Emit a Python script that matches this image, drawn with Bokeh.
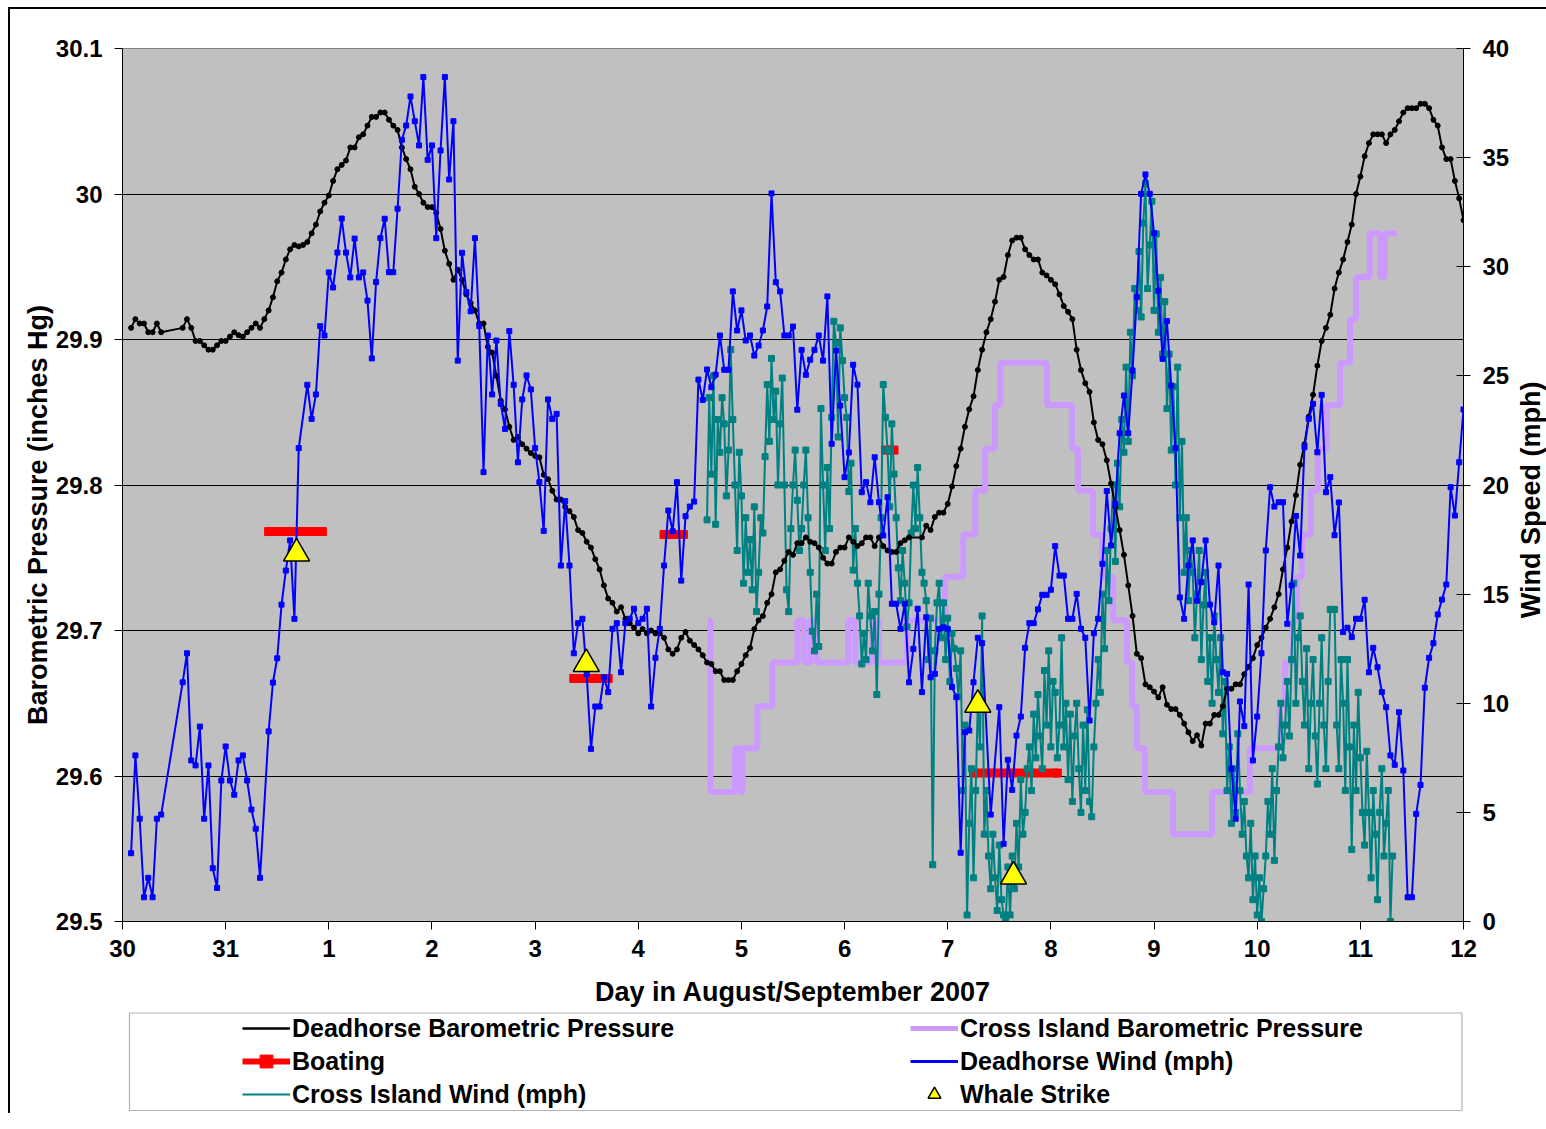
import math
from bokeh.plotting import figure
from bokeh.layouts import column, row
from bokeh.models import Range1d, LinearAxis, FixedTicker, Legend, LegendItem, BoxAnnotation
from bokeh.embed import file_html
from bokeh.resources import INLINE

FONT = "Liberation Sans"

# ---------------- data ----------------
# x axis: hours since 30 August 2007 00:00
tick_hours = [0, 24, 48, 72, 96, 120, 144, 168, 192, 216, 240, 264, 288, 312]
day_labels = ["30", "31", "1", "2", "3", "4", "5", "6", "7", "8", "9", "10", "11", "12"]
pressure_ticks = [29.5, 29.6, 29.7, 29.8, 29.9, 30.0, 30.1]
pressure_labels = ["29.5", "29.6", "29.7", "29.8", "29.9", "30", "30.1"]
wind_ticks = [0, 5, 10, 15, 20, 25, 30, 35, 40]

# Deadhorse barometric pressure (inches Hg), hourly from hour 2 (None = missing)
dh_pressure_start = 2
deadhorse_pressure = [
    29.908, 29.914, 29.911, 29.911, 29.905, 29.905, 29.911, 29.905,
    None, None, None, None,
    29.908, 29.914, 29.908, 29.899, 29.899, 29.896, 29.893, 29.893, 29.896, 29.899,
    29.899, 29.902, 29.905, 29.903, 29.902, 29.905, 29.908, 29.911, 29.908, 29.914,
    29.920, 29.929, 29.940, 29.946, 29.955, 29.962, 29.965, 29.964, 29.965, 29.967,
    29.973, 29.979, 29.988, 29.994, 29.999, 30.009, 30.017, 30.020, 30.023, 30.032,
    30.032, 30.039, 30.041, 30.047, 30.053, 30.053, 30.056, 30.056, 30.051, 30.047,
    30.044, 30.032, 30.024, 30.017, 30.005, 30.000, 29.994, 29.991, 29.991, 29.987,
    29.976, 29.961, 29.952, 29.941, 29.948, 29.941, 29.931, 29.925, 29.920, 29.911,
    29.911, 29.895, 29.891, 29.875, 29.858, 29.852, 29.840, 29.831, 29.833, 29.828,
    29.825, 29.822, 29.820, 29.819, 29.807, 29.804, 29.796, 29.790, 29.790, 29.785,
    29.782, 29.778, 29.769, 29.767, 29.761, 29.757, 29.749, 29.742, 29.731, 29.722,
    29.719, 29.713, 29.716, 29.708, 29.705, 29.702, 29.698, 29.701, 29.698, 29.700,
    29.698, 29.698, 29.695, 29.687, 29.684, 29.687, 29.695, 29.699, 29.693, 29.690,
    29.687, 29.683, 29.678, 29.677, 29.672, 29.672, 29.666, 29.666, 29.666, 29.672,
    29.677, 29.683, 29.688, 29.701, 29.707, 29.710, 29.719, 29.725, 29.740, 29.742,
    29.748, 29.754, 29.752, 29.760, 29.760, 29.764, 29.761, 29.760, 29.757, 29.750,
    29.746, 29.746, 29.754, 29.757, 29.757, 29.764, 29.761, 29.758, 29.760, 29.764,
    29.764, 29.758, 29.764, 29.758, 29.755, 29.754, 29.754, 29.760, 29.762, 29.764,
    None, None,
    29.764, 29.772, 29.769, 29.778, 29.781, 29.781, 29.787, 29.799, 29.813, 29.825,
    29.840, 29.852, 29.861, 29.879, 29.893, 29.905, 29.914, 29.926, 29.941, 29.943,
    29.958, 29.968, 29.970, 29.970, 29.962, 29.958, 29.955, 29.955, 29.946, 29.944,
    29.941, 29.938, 29.931, 29.923, 29.919, 29.914, 29.893, 29.879, 29.870, 29.864,
    29.843, 29.831, 29.828, 29.817, 29.801, 29.785, 29.769, 29.752, 29.731, 29.710,
    29.684, 29.681, 29.663, 29.661, 29.658, 29.654, 29.661, 29.649, 29.646, 29.646,
    29.642, 29.636, 29.630, 29.624, 29.628, 29.621, 29.636, 29.636, 29.642, 29.642,
    29.648, 29.660, 29.660, 29.663, 29.663, 29.670, 29.675, 29.681, 29.690, 29.695,
    29.702, 29.708, 29.716, 29.725, 29.742, 29.757, 29.775, 29.793, 29.814, 29.828,
    29.847, 29.862, 29.882, 29.899, 29.908, 29.917, 29.935, 29.946, 29.955, 29.967,
    29.979, 30.000, 30.012, 30.026, 30.035, 30.041, 30.041, 30.041, 30.035, 30.041,
    30.044, 30.050, 30.056, 30.059, 30.059, 30.059, 30.062, 30.062, 30.059, 30.051,
    30.047, 30.032, 30.024, 30.024, 30.009, 29.997, 29.982,
]

# Deadhorse wind (mph), hourly from hour 2 (None = missing)
dh_wind_start = 2
deadhorse_wind = [
    3.13, 7.61, 4.71, 1.11, 2.00, 1.11, 4.71, 4.90,
    None, None, None, None,
    10.96, 12.29, 7.38, 7.15, 8.93, 4.71, 7.15, 2.44, 1.54, 6.46,
    8.02, 6.46, 5.81, 7.38, 7.61, 6.46, 5.13, 4.25, 2.00, None,
    8.71, 10.95, 12.06, 14.52, 16.08, 17.46, 13.87, 21.69, None, 24.59,
    23.03, 24.15, 27.28, 26.85, 29.74, 29.05, 30.65, 32.21, 30.65, 29.51,
    31.29, 29.51, 29.74, 28.45, 25.80, 29.30, 31.31, 32.20, 29.75, 29.75,
    32.66, 35.82, 36.47, 37.80, 36.67, 35.56, 38.69, 34.90, 35.56, 31.31,
    35.33, 38.69, 34.00, 36.67, 25.70, 30.64, 28.84, 27.96, 31.31, 27.28,
    20.59, 26.85, 24.15, 26.62, 23.72, 22.57, 27.05, 24.59, 21.04, 23.92,
    25.02, 24.38, 21.69, 20.13, 17.90, 23.92, 23.03, 23.26, 16.31, 19.26,
    16.31, 12.29, 13.67, 13.87, 11.35, 7.91, 9.85, 9.85, 11.19, 10.51,
    13.41, 13.67, 11.42, 13.67, 13.87, 14.33, 13.67, 13.87, 14.33, 9.85,
    12.08, 13.41, 16.31, 18.83, 17.88, 20.13, 15.62, 18.57, 19.01, 19.24,
    24.83, 23.90, 25.29, 24.48, 25.06, 26.85, 25.28, 25.28, 28.87, 27.08,
    28.00, 26.62, 26.85, 25.93, 26.39, 27.08, 28.18, 33.36, 29.29, 28.87,
    26.85, 26.85, 27.26, 23.45, 26.19, 25.05, 25.74, 26.19, 26.85, 25.70,
    28.64, 21.89, 26.16, 23.64, 20.36, 21.49, 25.51, 24.60, 19.67, 20.13,
    19.21, 21.27, 19.21, 17.69, 19.44, 14.56, 14.56, 13.41, 14.56, 10.96,
    12.49, 14.33, 10.51, 13.94, 11.19, 11.35, 13.41, 13.48, 13.41, 10.74,
    10.28, 3.15, 8.67, 8.75, 10.96, 13.00, 12.75, None, 4.90, None,
    9.82, 3.56, 7.41, 6.03, 8.52, 9.39, 12.54, 13.67, 13.67, 14.30,
    14.97, 14.97, 15.20, 17.20, 15.85, 15.85, 13.87, 13.87, 15.01, 13.41,
    13.00, 9.21, 13.21, 13.87, 16.39, 19.72, 17.23, 19.14, 22.37, 24.10,
    22.37, 25.25, 28.61, 33.34, 34.23, 33.34, 31.54, 28.90, 25.78, 27.51,
    24.56, 21.69, 14.85, 13.87, 16.31, 17.46, 14.70, 15.55, 17.46, 14.52,
    13.71, 16.31, 11.42, 11.35, 7.00, 4.71, 10.08, 8.95, 15.44, 7.38,
    9.39, 12.29, 17.00, 19.90, 19.01, 19.21, 19.21, 13.64, 15.40, 18.58,
    16.77, 21.73, 23.03, 23.72, 21.50, 24.13, 19.67, 20.36, 17.70, 19.20,
    13.26, 13.46, 13.03, 13.87, 13.87, 14.74, 11.42, 12.54, 11.65, 10.51,
    9.82, 7.61, 7.18, 9.59, 6.92, 1.11, 1.11, 4.93, 6.26, 10.71,
    12.08, 12.75, 14.07, 14.75, 15.44, 19.90, 18.60, 21.04, 23.46,
]

# Cross Island wind (mph), every half hour from hour 136
ci_wind_start = 136.0
ci_wind_step = 0.5
cross_island_wind = [
    18.4, 24.0, 20.5, 25.0, 18.2, 23.0, 21.5, 24.0, 22.8, 19.5,
    21.6, 26.2, 23.0, 20.0, 17.0, 21.5, 19.5, 15.5, 18.5, 16.0,
    17.5, 15.2, 19.0, 14.2, 16.0, 18.5, 17.8, 21.3, 24.6, 22.0,
    25.8, 23.0, 24.3, 20.0, 22.8, 24.9, 20.0, 15.2, 14.2, 18.0,
    20.0, 21.6, 19.3, 17.0, 18.0, 20.0, 21.6, 18.5, 16.0, 13.3,
    12.4, 15.0, 12.6, 23.5, 20.0, 17.0, 20.8, 18.0, 23.1, 27.5,
    26.5, 22.2, 27.2, 25.7, 24.0, 23.1, 19.7, 21.0, 16.1, 18.0,
    15.5, 14.0, 11.8, 13.2, 12.0, 15.5, 14.0, 12.4, 14.2, 10.4,
    15.0, 18.5, 24.6, 23.1, 21.6, 19.0, 22.8, 20.5, 18.5, 16.2,
    14.7, 17.0, 15.5, 13.5, 14.6, 17.8, 20.0, 18.0, 20.8, 18.5,
    16.0, 15.5, 14.7, 12.0, 13.9, 2.6, 12.4, 14.6, 15.5, 13.0,
    14.6, 12.0, 13.9, 11.0, 13.2, 12.5, 11.6, 10.3, 12.4, 6.0,
    9.0, 0.3, 4.5, 7.0, 2.0, 6.0, 10.0, 8.0, 14.0, 4.0,
    6.0, 3.0, 1.5, 4.0, 2.0, 0.5, 3.5, 1.0, 0.3, 0.0,
    2.5, 0.3, 3.0, 1.5, 4.5, 2.5, 6.5, 4.0, 5.0, 7.0,
    8.0, 6.0, 9.5, 7.5, 10.4, 8.5, 7.0, 11.5, 9.0, 12.4,
    8.0, 11.0, 10.5, 7.5, 9.0, 13.0, 8.0, 10.0, 6.5, 9.5,
    5.5, 8.5, 10.0, 7.0, 5.0, 9.0, 6.0, 9.7, 5.5, 4.8,
    8.0, 10.0, 12.0, 10.5, 15.0, 12.5, 17.0, 14.7, 18.0, 20.0,
    16.5, 21.0, 19.0, 23.0, 21.5, 25.4, 22.0, 27.0, 25.0, 29.0,
    28.0, 30.7, 27.7, 32.0, 33.8, 29.0, 31.0, 33.0, 28.0, 31.5,
    27.0, 29.5, 26.0, 28.4, 23.5, 26.0, 21.6, 24.5, 20.0, 25.4,
    18.5, 22.0, 16.0, 18.5, 14.7, 17.0, 16.0, 13.0, 15.0, 17.0,
    12.0, 14.5, 16.0, 11.0, 13.0, 10.0, 14.0, 12.0, 10.5, 13.0,
    8.6, 11.0, 6.0, 8.0, 4.5, 7.0, 5.0, 8.6, 6.0, 4.0,
    5.5, 3.0, 2.0, 4.5, 1.0, 3.0, 0.3, 2.0, 0.0, 1.5,
    3.0, 5.5, 4.0, 7.0, 2.8, 6.0, 8.0, 10.0, 7.5, 9.0,
    11.0, 8.5, 12.0, 15.5, 10.0, 13.0, 14.0, 11.0, 9.0, 12.5,
    7.0, 10.0, 12.0, 8.5, 6.3, 10.0, 13.0, 9.0, 7.0, 11.0,
    14.3, 14.3, 14.3, 9.0, 7.0, 12.0, 10.0, 6.0, 12.0, 8.0,
    3.3, 9.0, 6.0, 10.5, 7.5, 5.0, 3.5, 7.8, 5.0, 2.0,
    6.0, 4.0, 1.0, 5.0, 7.0, 3.0, 4.5, 6.0, 0.0, 3.0,
]

# Cross Island barometric pressure (inches Hg): hour at which each level starts
ci_pressure_hours = [
    136.3, 136.8, 142.5, 143.7, 144.3, 147.7, 151.2, 157.0, 158.5, 160.0,
    161.5, 168.8, 170.5, 174.4, 176.0, 182.6, 191.4, 195.6, 198.4, 200.7,
    203.0, 204.2, 215.1, 220.9, 222.3, 225.8, 227.9, 230.5, 233.7, 234.9,
    236.0, 237.9, 244.4, 253.5, 262.3, 269.3, 270.5, 272.3, 273.3, 274.4,
    276.5, 278.1, 280.2, 283.3, 285.6, 287.0, 290.2, 292.6, 293.7, 296.5,
]
cross_island_pressure = [
    29.707, 29.589, 29.619, 29.589, 29.619, 29.648, 29.678, 29.707, 29.678, 29.707,
    29.678, 29.707, 29.678, 29.707, 29.678, 29.707, 29.737, 29.766, 29.796, 29.825,
    29.855, 29.884, 29.855, 29.825, 29.796, 29.766, 29.737, 29.707, 29.678, 29.648,
    29.619, 29.589, 29.560, 29.589, 29.619, 29.648, 29.678, 29.707, 29.737, 29.766,
    29.796, 29.825, 29.855, 29.884, 29.914, 29.943, 29.973, 29.943, 29.973, 29.973,
]

# Boating periods (hours) drawn at a fixed pressure level
boating_start = [34.0, 105.0, 126.0, 177.5, 198.0]
boating_end = [46.5, 113.0, 130.5, 179.5, 217.5]
boating_level = [29.768, 29.667, 29.766, 29.824, 29.602]

# Whale strikes
whale_hours = [40.5, 107.9, 199.0, 207.3]
whale_level = [29.753, 29.677, 29.649, 29.531]

legend_left = ["Deadhorse Barometric Pressure", "Boating", "Cross Island Wind (mph)"]
legend_right = ["Cross Island Barometric Pressure", "Deadhorse Wind (mph)", "Whale Strike"]
left_title = "Barometric Pressure (inches Hg)"
right_title = "Wind Speed (mph)"
bottom_title = "Day in August/September 2007"


def present(start, step, values):
    xs, ys = [], []
    for i, v in enumerate(values):
        if v is not None:
            xs.append(start + i * step)
            ys.append(v)
    return xs, ys


bp_x, bp_y = present(dh_pressure_start, 1, deadhorse_pressure)
dw_x, dw_y = present(dh_wind_start, 1, deadhorse_wind)
cw_x, cw_y = present(ci_wind_start, ci_wind_step, cross_island_wind)

boat_x, boat_y, boat_px, boat_py = [], [], [], []
for s, e, lv in zip(boating_start, boating_end, boating_level):
    boat_x += [s, e, float("nan")]
    boat_y += [lv, lv, float("nan")]
    boat_px += [s, e]
    boat_py += [lv, lv]

# ---------------- main figure ----------------
MB_LEFT, MB_TOP, MB_BOTTOM = 112, 39, 88
p = figure(width=1502, height=1000, x_range=Range1d(0, 312), y_range=Range1d(29.5, 30.1),
           output_backend="svg", toolbar_location=None,
           background_fill_color="#C0C0C0", border_fill_color="white",
           min_border_left=MB_LEFT, min_border_right=49,
           min_border_top=MB_TOP, min_border_bottom=MB_BOTTOM)
p.extra_y_ranges = {"wind": Range1d(0, 40)}
p.outline_line_color = "#808080"
p.xgrid.visible = False
p.ygrid.ticker = FixedTicker(ticks=[29.6, 29.7, 29.8, 29.9, 30.0])
p.ygrid.grid_line_color = "black"
p.ygrid.grid_line_width = 1


def style_axis(ax):
    ax.axis_line_color = "black"
    ax.major_tick_line_color = "black"
    ax.minor_tick_line_color = None
    ax.major_label_text_font = FONT
    ax.major_label_text_font_style = "bold"
    ax.major_label_text_font_size = "24px"
    ax.major_label_text_color = "black"
    ax.axis_label_text_font = FONT
    ax.axis_label_text_font_style = "bold"
    ax.axis_label_text_font_size = "27px"
    ax.axis_label_text_color = "black"


xa = p.xaxis[0]
style_axis(xa)
xa.ticker = FixedTicker(ticks=tick_hours)
xa.major_label_overrides = {h: lab for h, lab in zip(tick_hours, day_labels)}
xa.major_tick_in = 0
xa.major_tick_out = 8
xa.major_label_standoff = 10
xa.axis_label = bottom_title
xa.axis_label_standoff = 17

ya = p.yaxis[0]
style_axis(ya)
ya.ticker = FixedTicker(ticks=pressure_ticks)
ya.major_label_overrides = {v: lab for v, lab in zip(pressure_ticks, pressure_labels)}
ya.major_tick_in = 0
ya.major_tick_out = 8
ya.major_label_standoff = 12
# trailing no-break spaces move the (bottom-to-top) title down, as in the original
ya.axis_label = left_title + "\u00a0" * 8
ya.axis_label_standoff = 0

ra = LinearAxis(y_range_name="wind", ticker=FixedTicker(ticks=wind_ticks))
style_axis(ra)
ra.major_tick_in = 7
ra.major_tick_out = 7
ra.major_label_standoff = 12
p.add_layout(ra, "right")

# ---------------- series ----------------
ci_p = p.step(ci_pressure_hours, cross_island_pressure, mode="after",
              line_color="#CC99FF", line_width=6)
boat_l = p.line(boat_x, boat_y, line_color="#FF0000", line_width=9)
boat_m = p.scatter(boat_px, boat_py, marker="square", size=8, color="#FF0000")
cw_l = p.line(cw_x, cw_y, y_range_name="wind", line_color="#008080", line_width=2)
cw_m = p.scatter(cw_x, cw_y, y_range_name="wind", marker="square", size=6,
                 color="#008080")
bp_l = p.line(bp_x, bp_y, line_color="black", line_width=2)
bp_m = p.scatter(bp_x, bp_y, marker="circle", size=5, color="black")
dw_l = p.line(dw_x, dw_y, y_range_name="wind", line_color="#0000FF", line_width=2)
dw_m = p.scatter(dw_x, dw_y, y_range_name="wind", marker="square", size=5,
                 color="#0000FF")
wh = p.scatter(whale_hours, whale_level, marker="triangle", size=26,
               fill_color="#FFFF00", line_color="black", line_width=1.5)

# ---------------- right-hand axis title (reads bottom to top) ----------------
r = figure(width=34, height=1000, x_range=Range1d(0, 1), y_range=Range1d(0, 1),
           output_backend="svg", toolbar_location=None, x_axis_type=None,
           background_fill_color="white", border_fill_color="white",
           min_border_left=26, min_border_right=0,
           min_border_top=MB_TOP, min_border_bottom=MB_BOTTOM)
r.outline_line_color = None
r.grid.visible = False
rya = r.yaxis[0]
rya.ticker = FixedTicker(ticks=[])
rya.axis_line_color = None
rya.major_tick_line_color = None
rya.minor_tick_line_color = None
rya.major_tick_out = 0
rya.major_tick_in = 0
rya.axis_label = right_title + "\u00a0" * 4
rya.axis_label_standoff = 0
rya.axis_label_text_font = FONT
rya.axis_label_text_font_style = "bold"
rya.axis_label_text_font_size = "27px"
rya.axis_label_text_color = "black"

# ---------------- legend panel (boxed, below the chart) ----------------
LEG_W, LEG_H = 1341, 104
q = figure(width=1536, height=LEG_H, x_range=Range1d(0, LEG_W), y_range=Range1d(0, LEG_H),
           output_backend="svg", toolbar_location=None,
           x_axis_type=None, y_axis_type=None,
           background_fill_color="white", border_fill_color="white",
           min_border_left=MB_LEFT, min_border_right=83, min_border_top=0, min_border_bottom=0)
q.outline_line_color = None
q.add_layout(BoxAnnotation(left=7, right=LEG_W - 1.5, bottom=3, top=LEG_H - 3.5,
                           fill_color=None, fill_alpha=0,
                           line_color="black", line_width=1.2))

ox, oy = [-50, -40], [-50, -50]   # keeps the legend sample glyphs out of view
g_bp_l = q.line(ox, oy, line_color="black", line_width=2.5)
g_bo_l = q.line(ox, oy, line_color="#FF0000", line_width=6)
g_bo_m = q.scatter(ox, oy, marker="square", size=9, color="#FF0000")
g_cw_l = q.line(ox, oy, line_color="#008080", line_width=2)
g_cp_l = q.line(ox, oy, line_color="#CC99FF", line_width=5)
g_dw_l = q.line(ox, oy, line_color="#0000FF", line_width=3)
g_wh = q.scatter(ox, oy, marker="triangle", size=18, fill_color="#FFFF00",
                 line_color="black", line_width=1.5)


def make_legend(items, x, y):
    return Legend(items=items, location=(x, y), orientation="vertical",
                  border_line_color=None, background_fill_alpha=0,
                  padding=0, margin=0, spacing=1, glyph_width=48, glyph_height=32,
                  label_standoff=2, label_height=29,
                  label_text_font=FONT, label_text_font_style="bold",
                  label_text_font_size="25px", label_text_color="black")


leg1 = make_legend([
    LegendItem(label=legend_left[0], renderers=[g_bp_l]),
    LegendItem(label=legend_left[1], renderers=[g_bo_l, g_bo_m]),
    LegendItem(label=legend_left[2], renderers=[g_cw_l]),
], 120, 3)
leg2 = make_legend([
    LegendItem(label=legend_right[0], renderers=[g_cp_l]),
    LegendItem(label=legend_right[1], renderers=[g_dw_l]),
    LegendItem(label=legend_right[2], renderers=[g_wh]),
], 788, 3)
q.add_layout(leg1)
q.add_layout(leg2)

page = column(row(p, r, spacing=0), q, spacing=0,
              styles={"margin-left": "8px", "margin-top": "7px",
                      "border-left": "2px solid black", "border-top": "2px solid black"})

open("out.html", "w").write(file_html(page, INLINE))
